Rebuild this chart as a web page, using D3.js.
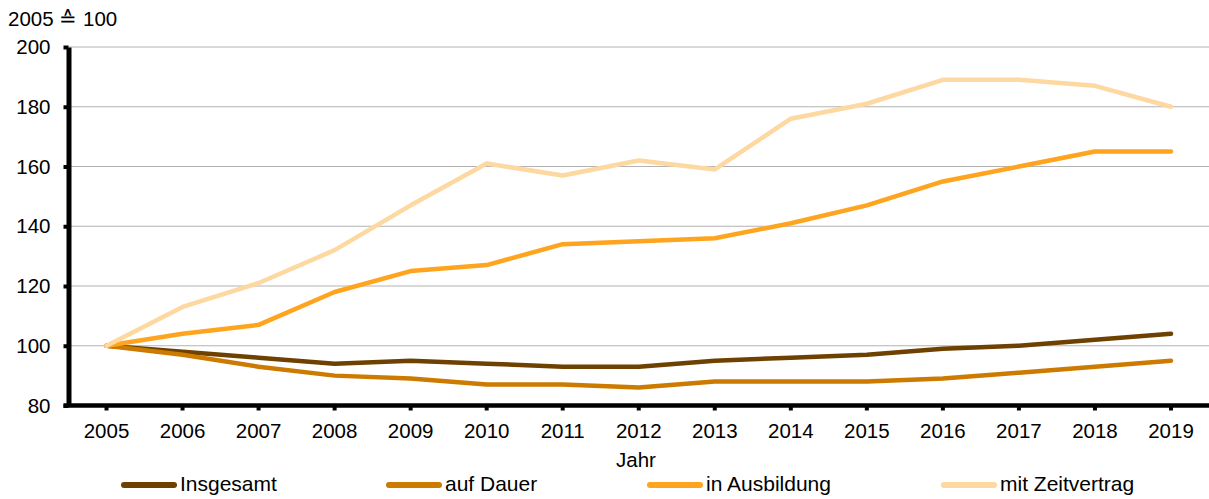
<!DOCTYPE html>
<html>
<head>
<meta charset="utf-8">
<script src="https://cdn.jsdelivr.net/npm/d3@7"></script>
<style>
	body { margin: 0; background: #fff; }
	svg text { font-family: "Liberation Sans", Arial, sans-serif; fill: #000; }
</style>
</head>
<body>
<svg id="chart" width="1209" height="499"></svg>
<script>
'use strict';

const years = ['2005','2006','2007','2008','2009','2010','2011','2012','2013','2014','2015','2016','2017','2018','2019'];
const insgesamt = [100, 98, 96, 94, 95, 94, 93, 93, 95, 96, 97, 99, 100, 102, 104];
const aufDauer = [100, 97, 93, 90, 89, 87, 87, 86, 88, 88, 88, 89, 91, 93, 95];
const inAusbildung = [100, 104, 107, 118, 125, 127, 134, 135, 136, 141, 147, 155, 160, 165, 165];
const mitZeitvertrag = [100, 113, 121, 132, 147, 161, 157, 162, 159, 176, 181, 189, 189, 187, 180];
const yTicks = [80, 100, 120, 140, 160, 180, 200];

const series = [
	{ name: 'Insgesamt', values: insgesamt, color: '#6e4100' },
	{ name: 'auf Dauer', values: aufDauer, color: '#cc7a00' },
	{ name: 'in Ausbildung', values: inAusbildung, color: '#ffa41f' },
	{ name: 'mit Zeitvertrag', values: mitZeitvertrag, color: '#fdd8a0' }
];

const svg = d3.select('#chart');
const plot = { left: 68.5, right: 1209, top: 47, bottom: 405.5 };
const fontSize = '20.5px';

const x = d3.scaleBand().domain(years).range([plot.left, plot.right]);
const y = d3.scaleLinear().domain([80, 200]).range([plot.bottom, plot.top]);

// grid lines
svg.append('g')
	.selectAll('line')
	.data(yTicks.filter(t => t > 80))
	.join('line')
		.attr('x1', plot.left)
		.attr('x2', plot.right)
		.attr('y1', d => y(d))
		.attr('y2', d => y(d))
		.attr('stroke', '#b3b3b3')
		.attr('stroke-width', 1);

// lines
const line = d3.line()
	.x((d, i) => x(years[i]) + x.bandwidth() / 2)
	.y(d => y(d));

svg.append('g')
	.selectAll('path')
	.data(series)
	.join('path')
		.attr('d', d => line(d.values))
		.attr('fill', 'none')
		.attr('stroke', d => d.color)
		.attr('stroke-width', 4.5)
		.attr('stroke-linecap', 'round')
		.attr('stroke-linejoin', 'round');

// y axis
const yAxis = svg.append('g')
	.attr('transform', `translate(${plot.left},0)`)
	.call(d3.axisLeft(y).tickValues(yTicks).tickSize(5).tickPadding(13).tickSizeOuter(0));
yAxis.select('.domain').attr('stroke', '#000').attr('stroke-width', 5);
yAxis.selectAll('.tick line').attr('stroke', '#000').attr('stroke-width', 4);
yAxis.selectAll('.tick text').style('font-size', fontSize);

// x axis
const xAxis = svg.append('g')
	.attr('transform', `translate(0,${plot.bottom})`)
	.call(d3.axisBottom(x).tickSize(5).tickPadding(13).tickSizeOuter(0));
xAxis.select('.domain').attr('stroke', '#000').attr('stroke-width', 4.5)
	.attr('d', `M${plot.left - 5},0H${plot.right}`);
xAxis.selectAll('.tick line').attr('stroke', '#000').attr('stroke-width', 4);
xAxis.selectAll('.tick text').style('font-size', fontSize);

// unit label
svg.append('text')
	.attr('x', 8)
	.attr('y', 26)
	.style('font-size', fontSize)
	.text('2005 ≙ 100');

// x title
svg.append('text')
	.attr('x', 636)
	.attr('y', 467)
	.attr('text-anchor', 'middle')
	.style('font-size', fontSize)
	.text('Jahr');

// legend
const legendX = [121, 386, 647, 941];
const leg = svg.append('g')
	.selectAll('g')
	.data(series)
	.join('g')
		.attr('transform', (d, i) => `translate(${legendX[i]},485)`);
leg.append('line')
	.attr('x1', 3).attr('x2', 53)
	.attr('stroke', d => d.color)
	.attr('stroke-width', 6)
	.attr('stroke-linecap', 'round');
leg.append('text')
	.attr('x', 59)
	.attr('y', 6)
	.style('font-size', '21px')
	.text(d => d.name);
</script>
</body>
</html>
